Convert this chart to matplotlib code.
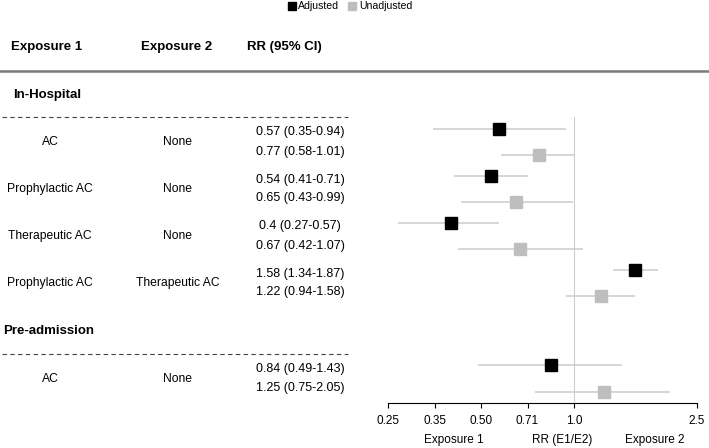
import matplotlib
matplotlib.use("Agg")
import matplotlib.pyplot as plt
import numpy as np

plt.rcParams['font.family'] = ['Liberation Sans', 'DejaVu Sans']

# data
sections = ["In-Hospital", "In-Hospital", "In-Hospital", "In-Hospital", "Pre-admission"]
exposure1 = ["AC", "Prophylactic AC", "Therapeutic AC", "Prophylactic AC", "AC"]
exposure2 = ["None", "None", "None", "Therapeutic AC", "None"]
adj_rr = [0.57, 0.54, 0.40, 1.58, 0.84]
adj_lo = [0.35, 0.41, 0.27, 1.34, 0.49]
adj_hi = [0.94, 0.71, 0.57, 1.87, 1.43]
unadj_rr = [0.77, 0.65, 0.67, 1.22, 1.25]
unadj_lo = [0.58, 0.43, 0.42, 0.94, 0.75]
unadj_hi = [1.01, 0.99, 1.07, 1.58, 2.05]
tick_vals = [0.25, 0.35355, 0.5, 0.70711, 1.0, 2.5]
tick_labels = ["0.25", "0.35", "0.50", "0.71", "1.0", "2.5"]

W, H = 709, 448
fig = plt.figure(figsize=(W / 100, H / 100), dpi=100)

# layout in pixel rows (y downwards)
header_y = 47
rule_y = 71
axis_y = 403
top_y = 117

# work out the y of every section header / dashed line / group
rows = []
sec_rows = []
cur = 95
prev = None
for i, s in enumerate(sections):
    if s != prev:
        if prev is not None:
            cur = rows[-1] + 48.5
        sec_rows.append((s, cur, cur + 22.5))
        cur = cur + 22.5 + 24.5
        prev = s
    else:
        cur = rows[-1] + 47
    rows.append(cur)
rows = np.array(rows)

# text layer covering the whole figure
tab = fig.add_axes([0, 0, 1, 1])
tab.set_xlim(0, W)
tab.set_ylim(H, 0)
tab.axis("off")

fs = 8
fs_row = 8.7
fs_rr = 9
tab.text(11, header_y, "Exposure 1", fontsize=9.5, fontweight="bold", va="center", ha="left")
tab.text(177, header_y, "Exposure 2", fontsize=9.5, fontweight="bold", va="center", ha="center")
tab.text(284, header_y, "RR (95% CI)", fontsize=9.5, fontweight="bold", va="center", ha="center")
tab.plot([0, 709], [rule_y, rule_y], color="#7a7a7a", lw=1.8)

for k, (name, hy, dy) in enumerate(sec_rows):
    tab.text(13 if k == 0 else 3, hy, name, fontsize=9.5, fontweight="bold", va="center", ha="left")
    tab.plot([2, 348], [dy, dy], color="#444444", lw=0.8, ls=(0, (4, 3)))

for i in range(len(rows)):
    y = rows[i]
    tab.text(50, y, exposure1[i], fontsize=fs_row, va="center", ha="center")
    tab.text(178, y, exposure2[i], fontsize=fs_row, va="center", ha="center")
    tab.text(300, y - 9.5, f"{adj_rr[i]:g} ({adj_lo[i]:g}-{adj_hi[i]:g})", fontsize=fs_rr, va="center", ha="center")
    tab.text(300, y + 9.5, f"{unadj_rr[i]:g} ({unadj_lo[i]:g}-{unadj_hi[i]:g})", fontsize=fs_rr, va="center", ha="center")

# legend
tab.plot([292], [6], marker="s", color="black", ms=6, ls="none")
tab.text(298, 6, "Adjusted", fontsize=7.6, va="center", ha="left")
tab.plot([352], [6], marker="s", color="#bebebe", ms=6, ls="none")
tab.text(359, 6, "Unadjusted", fontsize=7.6, va="center", ha="left")

# forest panel
x0, x1 = 388, 697
ax = fig.add_axes([x0 / W, 1 - axis_y / H, (x1 - x0) / W, (axis_y - top_y) / H])
ax.set_xscale("log")
ax.set_xlim(0.25, 2.5)
ax.set_ylim(axis_y, top_y)
ax.patch.set_alpha(0)
ax.axvline(1.0, color="#cccccc", lw=0.8, zorder=1)

ax.hlines(rows - 13, adj_lo, adj_hi, color="#cccccc", lw=1.1, zorder=2)
ax.hlines(rows + 13, unadj_lo, unadj_hi, color="#cccccc", lw=1.1, zorder=2)
ax.plot(adj_rr, rows - 13, "s", color="black", ms=9, ls="none", zorder=3)
ax.plot(unadj_rr, rows + 13, "s", color="#bebebe", ms=9, ls="none", zorder=3)

for sp in ["top", "left", "right"]:
    ax.spines[sp].set_visible(False)
ax.spines["bottom"].set_linewidth(0.8)
ax.set_yticks([])
ax.xaxis.set_minor_locator(matplotlib.ticker.NullLocator())
ax.set_xticks(tick_vals)
ax.set_xticklabels(tick_labels)
ax.tick_params(axis="x", direction="out", length=3.5, width=0.8, pad=5, labelsize=8.5)

tab.text(454, 440, "Exposure 1", fontsize=8.5, va="center", ha="center")
tab.text(562, 440, "RR (E1/E2)", fontsize=8.5, va="center", ha="center")
tab.text(655, 440, "Exposure 2", fontsize=8.5, va="center", ha="center")

fig.savefig("out.png", dpi=100)
